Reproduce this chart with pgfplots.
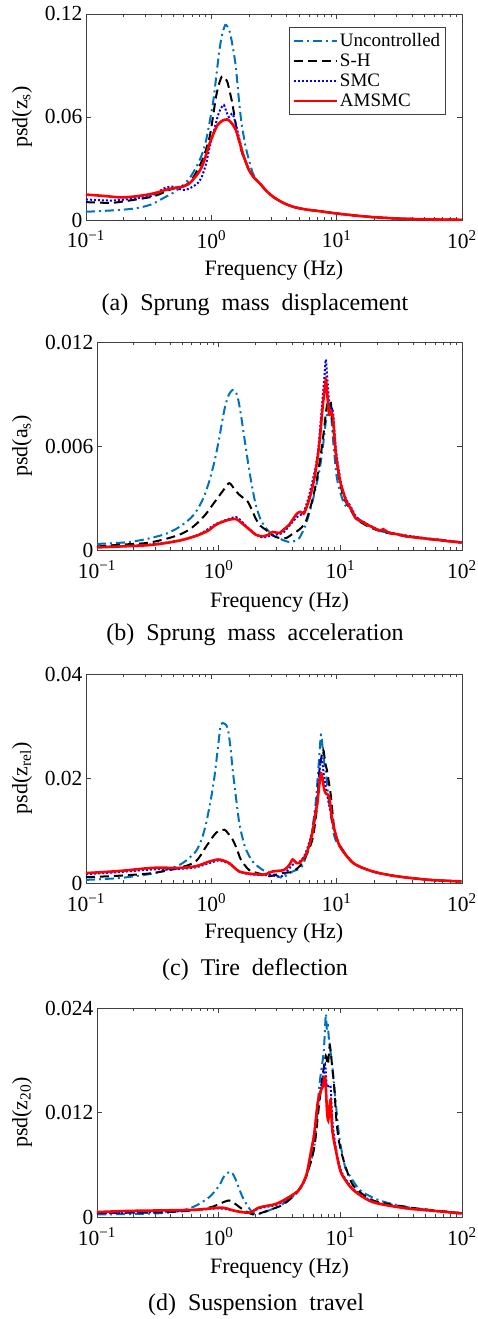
\documentclass[border=0pt]{standalone}
\usepackage{fontspec}
\setmainfont{Liberation Serif}
\usepackage{pgfplots}
\pgfplotsset{compat=1.18}
\definecolor{mblue}{rgb}{0,0.447,0.741}
\pgfplotsset{every axis/.append style={scale only axis, xmin=0.1, xmax=100, ymin=0,
  scaled y ticks=false, tick align=inside, major tick length=5pt,
  minor tick length=2.6pt, axis line style={black!75, line width=0.8pt},
  tick style={black!75, line width=0.6pt},
  tick label style={font=\fontsize{21.5}{24}\selectfont},
  xticklabel style={yshift=-7pt},
  label style={font=\fontsize{22}{26}\selectfont}},
  every axis plot/.append style={line width=2pt, smooth, tension=0.45},
  pUnc/.style={mblue, dash pattern=on 9pt off 4pt on 2pt off 4pt},
  pSH/.style={black, dash pattern=on 9pt off 5pt},
  pSMC/.style={blue, dash pattern=on 2pt off 2pt},
  pAMS/.style={red, line width=2.6pt, solid}}
\begin{document}
\begin{tikzpicture}
\useasboundingbox (0,0) rectangle (477pt,-1319pt);
% (a) sprung mass displacement
\begin{axis}[xmode=log, at={(86pt,-220pt)}, anchor=south west, width=376pt, height=206pt,
  xtick={0.1,1,10,100},
  xticklabels={10\textsuperscript{−1},10\textsuperscript{0},10\textsuperscript{1},10\textsuperscript{2}},
  xlabel={Frequency (Hz)},
  ymax=0.12, ytick={0,0.06,0.12}, yticklabels={0,0.06,0.12},
  ylabel={psd(z\textsubscript{s})},
  ylabel style={at={(axis description cs:-0.170,0.5)}, anchor=center},
  xlabel style={at={(axis description cs:0.5,-0.243)}, anchor=center},
  legend style={at={(0.540,0.937)}, anchor=north west, draw=black!75,
    line width=0.6pt, font=\fontsize{19}{21}\selectfont, inner xsep=3pt,
    inner ysep=4pt, row sep=2pt},
  legend cell align=left,
  legend image code/.code={\draw[#1] (0pt,0pt) -- (43pt,0pt);}]
\addplot[pUnc] coordinates {(0.1,0.0048) (0.13,0.0052) (0.18,0.0058) (0.25,0.0068)
  (0.33,0.0090) (0.41,0.0126) (0.5,0.0160) (0.59,0.0200) (0.68,0.0250) (0.76,0.031)
  (0.84,0.038) (0.91,0.0466) (1.03,0.068) (1.10,0.085) (1.16,0.099) (1.22,0.108)
  (1.29,0.1136) (1.35,0.1125) (1.41,0.109) (1.49,0.100) (1.57,0.089) (1.65,0.072)
  (1.73,0.058) (1.81,0.049) (1.90,0.041) (2.15,0.027) (2.43,0.0214) (2.75,0.0170)
  (3.1,0.0136) (3.7,0.0102) (4.45,0.0078) (5.5,0.0063) (7,0.0053) (10,0.0038)
  (15,0.0024) (20,0.0016) (30,0.0009) (50,0.0004) (100,0.0001)};
\addlegendentry{Uncontrolled\hspace{12pt}}
\addplot[pSH] coordinates {(0.1,0.0104) (0.13,0.0101) (0.163,0.0100) (0.22,0.0113)
  (0.28,0.0125) (0.34,0.0136) (0.40,0.0155) (0.46,0.0175) (0.54,0.0190) (0.63,0.0204)
  (0.72,0.025) (0.80,0.031) (0.88,0.038) (0.97,0.0485) (1.03,0.060) (1.09,0.0718)
  (1.15,0.079) (1.21,0.0835) (1.27,0.083) (1.34,0.0806) (1.40,0.075) (1.47,0.068)
  (1.54,0.059) (1.61,0.0506) (1.70,0.043) (1.78,0.038) (1.89,0.0335) (2.0,0.029)
  (2.2,0.0245) (2.43,0.0214) (2.75,0.0170) (3.1,0.0136) (3.7,0.0102) (4.45,0.0078)
  (5.5,0.0063) (7,0.0053) (10,0.0038) (15,0.0024) (20,0.0016) (30,0.0009)
  (50,0.0004) (100,0.0001)};
\addlegendentry{S-H}
\addplot[pSMC] coordinates {(0.1,0.0120) (0.13,0.0115) (0.17,0.0114) (0.25,0.0126)
  (0.33,0.0140) (0.39,0.0170) (0.43,0.0188) (0.49,0.0194) (0.54,0.0185) (0.59,0.0175)
  (0.65,0.0180) (0.71,0.0194) (0.78,0.0215) (0.84,0.0252) (0.91,0.033) (0.97,0.0427)
  (1.05,0.052) (1.12,0.060) (1.19,0.065) (1.26,0.067) (1.32,0.063) (1.38,0.060)
  (1.47,0.062) (1.54,0.058) (1.61,0.0524) (1.70,0.045) (1.78,0.039) (1.89,0.0335)
  (2.0,0.029) (2.2,0.0245) (2.43,0.0214) (2.75,0.0170) (3.1,0.0136) (3.7,0.0102)
  (4.45,0.0078) (5.5,0.0063) (7,0.0053) (10,0.0038) (15,0.0024) (20,0.0016)
  (30,0.0009) (50,0.0004) (100,0.0001)};
\addlegendentry{SMC}
\addplot[pAMS] coordinates {(0.1,0.0148) (0.14,0.0140) (0.185,0.0132) (0.23,0.0135)
  (0.30,0.0146) (0.37,0.0160) (0.43,0.0175) (0.50,0.0186) (0.59,0.0194) (0.66,0.0210)
  (0.71,0.0233) (0.78,0.027) (0.84,0.031) (0.91,0.038) (0.97,0.0447) (1.05,0.051)
  (1.12,0.0553) (1.22,0.0578) (1.34,0.0586) (1.45,0.0565) (1.57,0.0524) (1.67,0.046)
  (1.78,0.0388) (1.89,0.0335) (2.0,0.029) (2.2,0.0245) (2.43,0.0214) (2.75,0.0170)
  (3.1,0.0136) (3.7,0.0102) (4.45,0.0078) (5.5,0.0063) (7,0.0053) (10,0.0038)
  (15,0.0024) (20,0.0016) (30,0.0009) (50,0.0004) (100,0.0001)};
\addlegendentry{AMSMC}
\end{axis}
\node[font=\fontsize{24}{28}\selectfont] at (255pt,-305pt) {(a)\ \ Sprung\ \ mass\ \ displacement};
% (b) sprung mass acceleration
\begin{axis}[xmode=log, at={(97pt,-550pt)}, anchor=south west, width=365pt, height=208pt,
  xtick={0.1,1,10,100},
  xticklabels={10\textsuperscript{−1},10\textsuperscript{0},10\textsuperscript{1},10\textsuperscript{2}},
  xlabel={Frequency (Hz)},
  ymax=0.012, ytick={0,0.006,0.012}, yticklabels={0,0.006,0.012},
  ylabel={psd(a\textsubscript{s})},
  ylabel style={at={(axis description cs:-0.205,0.5)}, anchor=center},
  xlabel style={at={(axis description cs:0.5,-0.25)}, anchor=center}]
\addplot[pUnc] coordinates {(0.1,0.00035) (0.14,0.00040) (0.184,0.00046) (0.25,0.00062)
  (0.35,0.00088) (0.43,0.00115) (0.505,0.00146) (0.58,0.0018) (0.65,0.0022)
  (0.75,0.0030) (0.84,0.0040) (0.93,0.0052) (1.01,0.00645) (1.08,0.0076) (1.14,0.0084)
  (1.22,0.0090) (1.30,0.00923) (1.36,0.0092) (1.43,0.00885) (1.50,0.0081) (1.57,0.0072)
  (1.68,0.0058) (1.79,0.00453) (1.90,0.0035) (2.02,0.0026) (2.2,0.0018) (2.44,0.00127)
  (2.7,0.00095) (2.95,0.00079) (3.3,0.00060) (3.8,0.00046) (4.2,0.00052) (4.6,0.00069)
  (5.2,0.00146) (5.9,0.0028) (6.7,0.0045) (7.2,0.0060) (7.6,0.0074) (8.1,0.0084)
  (8.4,0.0078) (8.7,0.0064) (9.4,0.0041) (10.7,0.0027) (12,0.0024) (13.5,0.0019)
  (15,0.0017) (16.5,0.00150) (19,0.00125) (21,0.00110) (25,0.0010) (30.8,0.00088)
  (40,0.00076) (47.8,0.00068) (65,0.0006) (80,0.00052) (99,0.00043)};
\addplot[pSH] coordinates {(0.1,0.0002) (0.15,0.0003) (0.253,0.0004) (0.35,0.0006)
  (0.475,0.00088) (0.58,0.0012) (0.69,0.00165) (0.79,0.0021) (0.89,0.0026) (1.08,0.0034)
  (1.22,0.00386) (1.35,0.0035) (1.47,0.0032) (1.60,0.0030) (1.73,0.0028) (1.88,0.0023)
  (2.02,0.0018) (2.2,0.0014) (2.44,0.00117) (2.7,0.0009) (3.0,0.00073) (3.3,0.00068)
  (3.6,0.00069) (4.0,0.0009) (4.4,0.00108) (4.8,0.0013) (5.2,0.00165) (5.7,0.0025)
  (6.3,0.0038) (6.7,0.0049) (7.1,0.0061) (7.5,0.0075) (7.8,0.0084) (8.3,0.0086)
  (8.6,0.0075) (8.9,0.0065) (9.3,0.0052) (9.8,0.0041) (10.7,0.0030) (12.2,0.0023)
  (13.5,0.0018) (16.5,0.0014) (21,0.0011) (30.8,0.00085) (47.8,0.00066) (99,0.00043)};
\addplot[pSMC] coordinates {(0.1,0.00017) (0.253,0.00029) (0.475,0.00056) (0.69,0.0009)
  (0.95,0.0015) (1.22,0.0018) (1.39,0.0019) (1.52,0.0017) (1.67,0.0014) (2.02,0.0009)
  (2.3,0.00072) (2.6,0.0008) (3.0,0.0009) (3.4,0.0010) (3.8,0.0014) (4.4,0.0019)
  (5.0,0.0022) (5.7,0.0035) (6.5,0.0055) (7.1,0.0085) (7.4,0.0100) (7.6,0.0110)
  (7.8,0.0100) (8.1,0.0085) (8.4,0.0078) (8.7,0.0080) (9.2,0.0058) (10.1,0.0039)
  (11.2,0.0029) (12.2,0.0025) (13.5,0.0019) (16.5,0.0015) (21,0.00115) (30.8,0.0009)
  (47.8,0.0007) (99,0.00045)};
\addplot[pAMS] coordinates {(0.1,0.00015) (0.15,0.0002) (0.253,0.00027) (0.35,0.00038)
  (0.475,0.00054) (0.58,0.0007) (0.69,0.00088) (0.82,0.00112) (0.95,0.00146)
  (1.08,0.00163) (1.22,0.00175) (1.39,0.00179) (1.52,0.0016) (1.67,0.00136)
  (1.85,0.0011) (2.02,0.00088) (2.3,0.00079) (2.55,0.00088) (2.78,0.00104) (3.0,0.0010)
  (3.16,0.00098) (3.45,0.0012) (3.8,0.00146) (4.1,0.0018) (4.4,0.0021) (4.7,0.0022)
  (5.0,0.0021) (5.3,0.0025) (5.7,0.0032) (6.1,0.0041) (6.5,0.0053) (6.8,0.0065)
  (7.1,0.0080) (7.35,0.0090) (7.6,0.0098) (7.85,0.0088) (8.1,0.0078) (8.4,0.0080)
  (8.7,0.0076) (9.0,0.0063) (9.2,0.0055) (9.6,0.0046) (10.1,0.0038) (11.2,0.0028)
  (12.2,0.0024) (13.5,0.0018) (15,0.00165) (16.5,0.00146) (18,0.00135) (21,0.00112)
  (22.5,0.00120) (25,0.0010) (30.8,0.00088) (35,0.00078) (40,0.00074) (47.8,0.00068)
  (60,0.0006) (75,0.00052) (99,0.00043)};
\end{axis}
\node[font=\fontsize{24}{28}\selectfont] at (255pt,-635pt) {(b)\ \ Sprung\ \ mass\ \ acceleration};
% (c) tire deflection
\begin{axis}[xmode=log, at={(86pt,-883pt)}, anchor=south west, width=376pt, height=209pt,
  xtick={0.1,1,10,100},
  xticklabels={10\textsuperscript{−1},10\textsuperscript{0},10\textsuperscript{1},10\textsuperscript{2}},
  xlabel={Frequency (Hz)},
  ymax=0.04, ytick={0,0.02,0.04}, yticklabels={0,0.02,0.04},
  ylabel={psd(z\textsubscript{rel})},
  ylabel style={at={(axis description cs:-0.170,0.5)}, anchor=center},
  xlabel style={at={(axis description cs:0.5,-0.239)}, anchor=center}]
\addplot[pUnc] coordinates {(0.1,0.0006) (0.185,0.00095) (0.34,0.0018) (0.46,0.0027)
  (0.59,0.0038) (0.75,0.006) (0.84,0.0085) (0.91,0.0115) (1.0,0.0165) (1.06,0.0204)
  (1.13,0.026) (1.19,0.0303) (1.27,0.0305) (1.35,0.0297) (1.42,0.026) (1.48,0.0217)
  (1.57,0.0165) (1.67,0.0115) (1.78,0.0085) (1.89,0.0064) (2.14,0.0041) (2.57,0.0025)
  (3.08,0.0018) (3.4,0.0013) (3.7,0.00095) (4.0,0.0015) (4.45,0.0022) (5.3,0.0032)
  (6.0,0.007) (6.4,0.0105) (6.8,0.0153) (7.2,0.023) (7.5,0.0284) (7.75,0.0255)
  (7.97,0.023) (8.3,0.020) (8.7,0.0153) (9.6,0.0089) (10.6,0.007) (13.6,0.0038)
  (19.5,0.0022) (30,0.0013) (55,0.0006) (99,0.0003)};
\addplot[pSH] coordinates {(0.1,0.0011) (0.185,0.0014) (0.34,0.0019) (0.555,0.0029)
  (0.75,0.0041) (0.91,0.007) (1.09,0.0096) (1.27,0.0102) (1.36,0.0095) (1.48,0.0083)
  (1.60,0.0065) (1.72,0.0045) (2.0,0.0025) (2.42,0.0018) (2.9,0.0013) (3.3,0.0016)
  (3.7,0.0019) (4.45,0.0022) (5.3,0.0038) (6.4,0.0083) (7.0,0.015) (7.3,0.0217)
  (7.8,0.0255) (8.1,0.023) (8.35,0.0217) (8.7,0.019) (9.0,0.0166) (9.6,0.0102)
  (10.6,0.0072) (13.6,0.0038) (19.5,0.0022) (30,0.0013) (55,0.0006) (99,0.0003)};
\addplot[pSMC] coordinates {(0.1,0.0017) (0.185,0.0021) (0.34,0.0026) (0.555,0.0027)
  (0.75,0.0030) (0.96,0.0038) (1.13,0.0043) (1.25,0.0041) (1.39,0.0037) (1.52,0.0030)
  (1.67,0.0022) (2.0,0.0017) (2.57,0.0015) (3.0,0.0015) (3.5,0.0012) (3.8,0.0016)
  (4.45,0.0035) (5.0,0.0040) (5.6,0.0055) (6.4,0.0100) (7.0,0.0165) (7.5,0.024)
  (7.97,0.0200) (8.3,0.0175) (8.7,0.0150) (9.6,0.0100) (10.6,0.0071) (13.6,0.0038)
  (19.5,0.0022) (30,0.0013) (55,0.0006) (99,0.0003)};
\addplot[pAMS] coordinates {(0.1,0.0019) (0.185,0.0023) (0.34,0.0029) (0.555,0.0029)
  (0.75,0.0032) (0.96,0.0041) (1.13,0.0045) (1.25,0.0043) (1.39,0.0038) (1.52,0.0030)
  (1.67,0.0022) (2.0,0.0018) (2.57,0.0016) (2.8,0.0018) (3.08,0.0022) (3.8,0.0025)
  (4.2,0.0035) (4.45,0.0045) (4.7,0.0040) (5.0,0.0038) (5.6,0.0051) (6.0,0.0070)
  (6.4,0.0096) (7.0,0.0153) (7.5,0.021) (7.97,0.0178) (8.3,0.0170) (8.7,0.0166)
  (9.1,0.013) (9.6,0.0102) (10.6,0.007) (13.6,0.0038) (19.5,0.0022) (30,0.0013)
  (55,0.0006) (99,0.0003)};
\end{axis}
\node[font=\fontsize{24}{28}\selectfont] at (255pt,-970pt) {(c)\ \ Tire\ \ deflection};
% (d) suspension travel
\begin{axis}[xmode=log, at={(97pt,-1217pt)}, anchor=south west, width=365pt, height=209pt,
  xtick={0.1,1,10,100},
  xticklabels={10\textsuperscript{−1},10\textsuperscript{0},10\textsuperscript{1},10\textsuperscript{2}},
  xlabel={Frequency (Hz)},
  ymax=0.024, ytick={0,0.012,0.024}, yticklabels={0,0.012,0.024},
  ylabel={psd(z\textsubscript{20})},
  ylabel style={at={(axis description cs:-0.205,0.5)}, anchor=center},
  xlabel style={at={(axis description cs:0.5,-0.244)}, anchor=center}]
\addplot[pUnc] coordinates {(0.1,0.0003) (0.2,0.00035) (0.35,0.00046) (0.505,0.00076)
  (0.65,0.0013) (0.84,0.0023) (1.01,0.0036) (1.1,0.0046) (1.23,0.0052) (1.30,0.0050)
  (1.37,0.0044) (1.47,0.0033) (1.57,0.0023) (1.79,0.00095) (2.02,0.0003) (2.3,0.0005)
  (2.6,0.00076) (3.36,0.0015) (4.33,0.0027) (5.2,0.0046) (6.1,0.008) (6.7,0.0149)
  (7.3,0.019) (7.6,0.0233) (7.75,0.0215) (7.9,0.022) (8.1,0.020) (8.5,0.018)
  (8.9,0.015) (9.8,0.0092) (10.8,0.0061) (11.2,0.0054) (14.5,0.0031) (21.1,0.0019)
  (35,0.00115) (58,0.00076) (99,0.00046)};
\addplot[pSH] coordinates {(0.1,0.00046) (0.35,0.00055) (0.65,0.0008) (0.9,0.0012)
  (1.05,0.0016) (1.22,0.0019) (1.37,0.0015) (1.57,0.0009) (1.9,0.0003) (2.16,0.0004)
  (2.6,0.0008) (3.36,0.0014) (4.33,0.0027) (5.2,0.0045) (6.1,0.008) (6.7,0.013)
  (7.2,0.0165) (7.6,0.0185) (7.9,0.0175) (8.2,0.0197) (8.6,0.017) (8.9,0.015)
  (9.3,0.011) (9.8,0.0085) (10.8,0.0062) (12.8,0.0036) (18.6,0.0019) (35,0.00115)
  (60,0.00075) (99,0.00045)};
\addplot[pSMC] coordinates {(0.1,0.0004) (0.35,0.0006) (0.65,0.0008) (1.01,0.001)
  (1.37,0.0007) (1.79,0.0005) (2.16,0.001) (2.96,0.0014) (3.8,0.0022) (4.9,0.0037)
  (5.7,0.007) (6.5,0.0125) (7.2,0.016) (7.5,0.0175) (7.75,0.015) (8.3,0.015)
  (8.6,0.011) (9.3,0.0075) (10.2,0.0052) (12.8,0.0032) (18.6,0.0018) (35,0.001)
  (99,0.00042)};
\addplot[pAMS] coordinates {(0.1,0.00057) (0.185,0.0007) (0.35,0.00076) (0.65,0.00084)
  (1.01,0.00107) (1.15,0.001) (1.37,0.0007) (1.79,0.0005) (2.16,0.0011) (2.96,0.0015)
  (3.8,0.0023) (4.5,0.0030) (4.9,0.0038) (5.3,0.0050) (5.7,0.0073) (6.1,0.0095)
  (6.5,0.013) (6.9,0.0145) (7.2,0.0150) (7.5,0.0161) (7.75,0.0125) (7.95,0.0111)
  (8.3,0.0134) (8.6,0.0099) (9.3,0.0073) (10.2,0.005) (12.8,0.0031) (18.6,0.0017)
  (35,0.001) (60,0.0007) (99,0.0004)};
\end{axis}
\node[font=\fontsize{24}{28}\selectfont] at (256pt,-1305pt) {(d)\ \ Suspension\ \ travel};
\end{tikzpicture}
\end{document}
